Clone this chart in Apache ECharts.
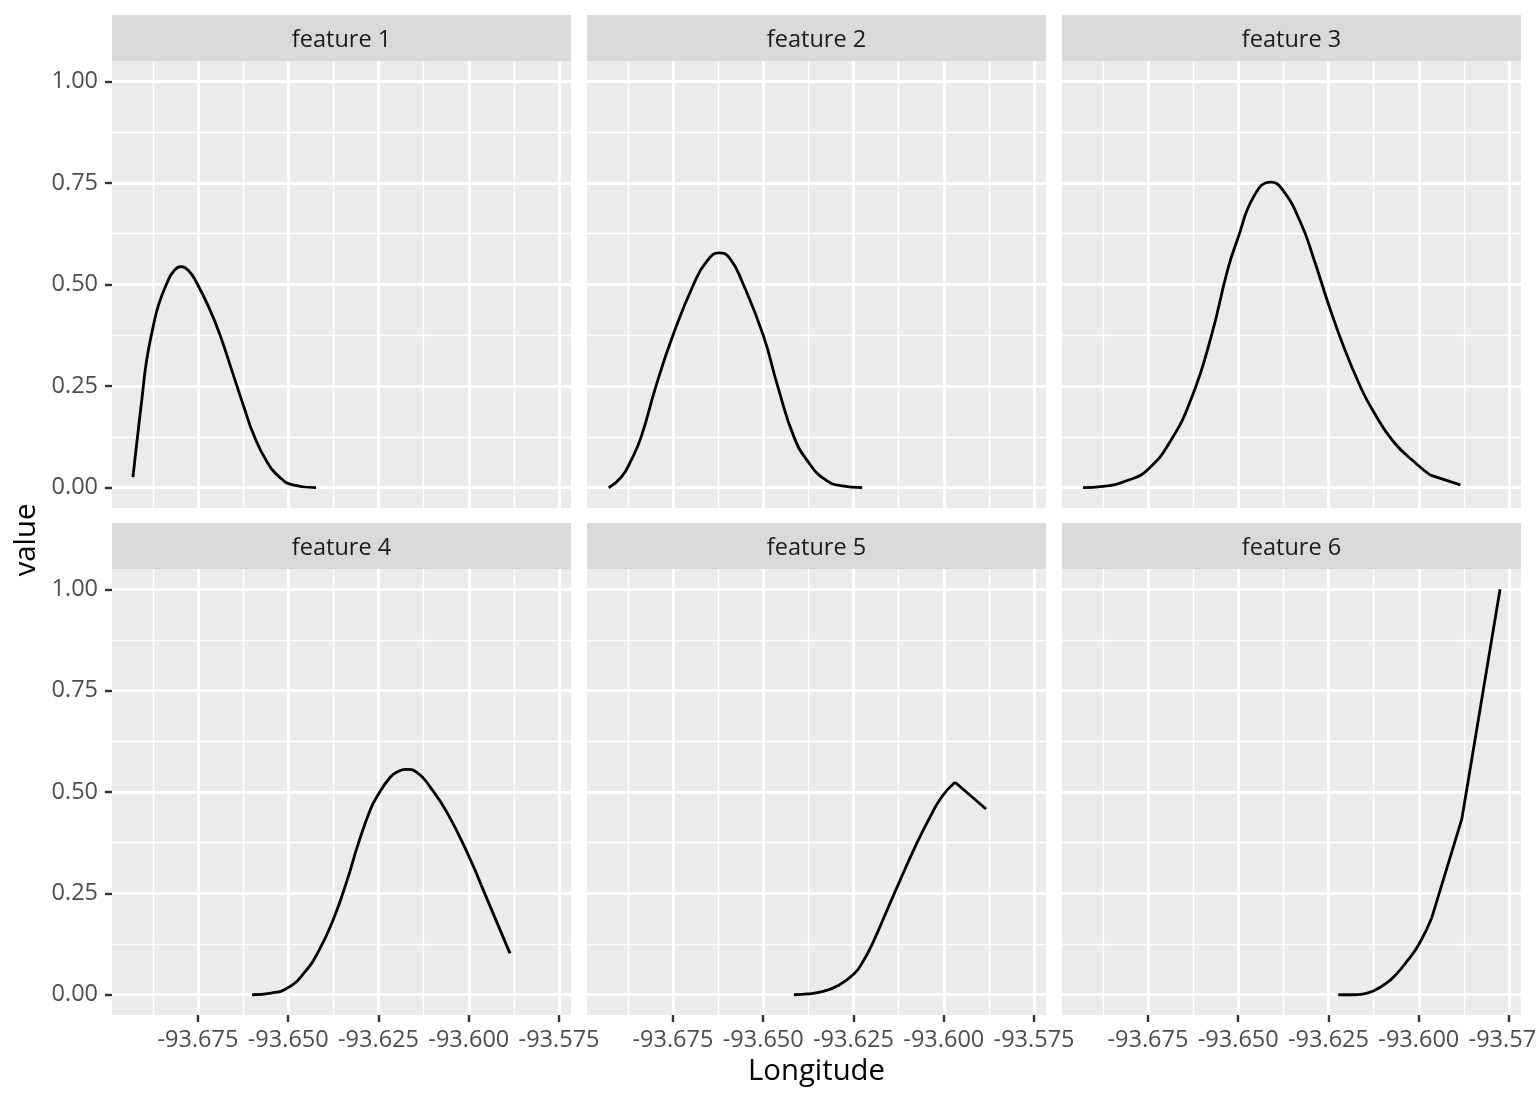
<!DOCTYPE html>
<html><head><meta charset="utf-8">
<script src="https://cdn.jsdelivr.net/npm/echarts@6/dist/echarts.min.js"></script>
<style>html,body{margin:0;padding:0;background:#fff}#chart{width:1536px;height:1104px}</style>
</head><body><div id="chart"></div>
<script>
// ---------- data ----------
const panelTitles = ['feature 1', 'feature 2', 'feature 3', 'feature 4', 'feature 5', 'feature 6'];
const xTicks = [-93.675, -93.650, -93.625, -93.600, -93.575];
const xMinor = [-93.6875, -93.6625, -93.6375, -93.6125, -93.5875];
const yTicks = [0, 0.25, 0.5, 0.75, 1];
const yMinor = [0.125, 0.375, 0.625, 0.875];
const xLimits = [-93.6988, -93.5717];
const yLimits = [-0.05, 1.05];

const curve1 = [
  [-93.6930, 0.026], [-93.6919, 0.113], [-93.6905, 0.220], [-93.6892, 0.314], [-93.6875, 0.392],
  [-93.6859, 0.450], [-93.6836, 0.503], [-93.6818, 0.532], [-93.6797, 0.544], [-93.6777, 0.535],
  [-93.6754, 0.505], [-93.6717, 0.438], [-93.6689, 0.376], [-93.6653, 0.280], [-93.6620, 0.191],
  [-93.6597, 0.133], [-93.6561, 0.067], [-93.6524, 0.026], [-93.6488, 0.007], [-93.6423, 0.000]
];
const curve2 = [
  [-93.6928, 0.000], [-93.6893, 0.026], [-93.6866, 0.067], [-93.6838, 0.125], [-93.6797, 0.250],
  [-93.6750, 0.375], [-93.6693, 0.500], [-93.6657, 0.556], [-93.6622, 0.578], [-93.6593, 0.565],
  [-93.6556, 0.502], [-93.6500, 0.375], [-93.6460, 0.250], [-93.6415, 0.125],
  [-93.6375, 0.063], [-93.6332, 0.022], [-93.6286, 0.005], [-93.6226, 0.000]
];
const curve3 = [
  [-93.6930, 0.000], [-93.6875, 0.003], [-93.6803, 0.019], [-93.6750, 0.045], [-93.6686, 0.117],
  [-93.6628, 0.224], [-93.6575, 0.372], [-93.6529, 0.537], [-93.6502, 0.611], [-93.6456, 0.718],
  [-93.6410, 0.752], [-93.6378, 0.734], [-93.6327, 0.652], [-93.6290, 0.561], [-93.6251, 0.454],
  [-93.6208, 0.347], [-93.6162, 0.249], [-93.6128, 0.191], [-93.6070, 0.113], [-93.6003, 0.056],
  [-93.5968, 0.031]
];
const tail3 = [[-93.5968, 0.031], [-93.5885, 0.007]];
const curve4 = [
  [-93.6600, 0.000], [-93.6547, 0.004], [-93.6499, 0.018], [-93.6455, 0.055], [-93.6418, 0.104],
  [-93.6375, 0.186], [-93.6336, 0.285], [-93.6308, 0.367], [-93.6272, 0.458], [-93.6252, 0.492],
  [-93.6217, 0.537], [-93.6197, 0.550], [-93.6175, 0.556], [-93.6143, 0.548], [-93.6106, 0.511],
  [-93.6060, 0.449], [-93.6000, 0.342], [-93.5966, 0.271]
];
const tail4 = [[-93.5966, 0.271], [-93.5886, 0.102]];
const curve5 = [
  [-93.6415, 0.000], [-93.6375, 0.002], [-93.6331, 0.009], [-93.6294, 0.022], [-93.6249, 0.051],
  [-93.6225, 0.080], [-93.6198, 0.125], [-93.6137, 0.250], [-93.6074, 0.375], [-93.6037, 0.440],
  [-93.6005, 0.489], [-93.5969, 0.524]
];
const tail5 = [[-93.5969, 0.524], [-93.5883, 0.458]];
const curve6 = [
  [-93.6223, 0.000], [-93.6182, 0.000], [-93.6155, 0.0015], [-93.6126, 0.009], [-93.6089, 0.029],
  [-93.6061, 0.052], [-93.6034, 0.081], [-93.6000, 0.124], [-93.5964, 0.190]
];
const tail6 = [[-93.5964, 0.190], [-93.5881, 0.433], [-93.5775, 1.000]];

const curves = [curve1, curve2, curve3, curve4, curve5, curve6];
const tails = [null, null, tail3, tail4, tail5, tail6];

// ---------- layout ----------
const FONT = 'Open Sans';
const colLeft = [112, 587, 1062];
const panelW = 459;
const rowTop = [61, 569];
const rowH = [447, 446];
const stripH = 46;
const majorW = 2.8, minorW = 1.4;

const grids = [], xAxes = [], yAxes = [], series = [], graphics = [];
for (let i = 0; i < 6; i++) {
  const r = Math.floor(i / 3), c = i % 3;
  const left = colLeft[c], top = rowTop[r], h = rowH[r];
  grids.push({ left: left, top: top, width: panelW, height: h, show: true,
    backgroundColor: '#EBEBEB', borderWidth: 0, outerBoundsMode: 'none', containLabel: false });
  const bottomRow = r === 1, leftCol = c === 0;
  xAxes.push({
    type: 'value', gridIndex: i, min: xLimits[0], max: xLimits[1],
    axisLine: { show: false, onZero: false },
    axisTick: { show: bottomRow, customValues: xTicks, length: 7,
      lineStyle: { color: '#333333', width: 2.4 } },
    axisLabel: { show: bottomRow, customValues: xTicks, margin: 13, fontSize: 23.5,
      color: '#4D4D4D', fontFamily: FONT, formatter: v => v.toFixed(3), hideOverlap: false },
    splitLine: { show: false }, minorSplitLine: { show: false }
  });
  yAxes.push({
    type: 'value', gridIndex: i, min: yLimits[0], max: yLimits[1],
    axisLine: { show: false, onZero: false },
    axisTick: { show: leftCol, customValues: yTicks, length: 7,
      lineStyle: { color: '#333333', width: 2.4 } },
    axisLabel: { show: leftCol, customValues: yTicks, margin: 14, fontSize: 23.5,
      color: '#4D4D4D', fontFamily: FONT, formatter: v => v.toFixed(2), hideOverlap: false },
    splitLine: { show: false }, minorSplitLine: { show: false }
  });
  const ml = [];
  xMinor.forEach(v => ml.push({ xAxis: v, lineStyle: { width: minorW } }));
  yMinor.forEach(v => ml.push({ yAxis: v, lineStyle: { width: minorW } }));
  xTicks.forEach(v => ml.push({ xAxis: v, lineStyle: { width: majorW } }));
  yTicks.forEach(v => ml.push({ yAxis: v, lineStyle: { width: majorW } }));
  series.push({
    type: 'line', xAxisIndex: i, yAxisIndex: i, data: [], z: 1, silent: true,
    markLine: { silent: true, precision: 6, symbol: ['none', 'none'], animation: false,
      label: { show: false },
      lineStyle: { color: '#FFFFFF', type: 'solid', opacity: 1 }, emphasis: { disabled: true },
      data: ml }
  });
  series.push({
    type: 'line', xAxisIndex: i, yAxisIndex: i, data: curves[i], z: 10,
    smooth: 0.5, symbol: 'none', silent: true, animation: false,
    lineStyle: { color: '#000000', width: 2.8 }
  });
  if (tails[i]) {
    series.push({
      type: 'line', xAxisIndex: i, yAxisIndex: i, data: tails[i], z: 10,
      smooth: false, symbol: 'none', silent: true, animation: false,
      lineStyle: { color: '#000000', width: 2.8, join: 'round' }
    });
  }
  graphics.push({ type: 'rect', shape: { x: left, y: top - stripH, width: panelW, height: stripH },
    style: { fill: '#D9D9D9' }, silent: true });
  graphics.push({ type: 'text', x: left + panelW / 2, y: top - stripH / 2 + 2,
    style: { text: panelTitles[i], fill: '#1A1A1A', font: '23.5px "Open Sans"',
      textAlign: 'center', textVerticalAlign: 'middle' }, silent: true });
}
graphics.push({ type: 'text', x: 816.5, y: 1072,
  style: { text: 'Longitude', fill: '#000000', font: '29.3px "Open Sans"',
    textAlign: 'center', textVerticalAlign: 'middle' }, silent: true });
graphics.push({ type: 'text', x: 27, y: 540, rotation: Math.PI / 2,
  style: { text: 'value', fill: '#000000', font: '29.3px "Open Sans"',
    textAlign: 'center', textVerticalAlign: 'middle' }, silent: true });

const chart = echarts.init(document.getElementById('chart'), null, { renderer: 'canvas' });
chart.setOption({
  animation: false,
  backgroundColor: '#FFFFFF',
  textStyle: { fontFamily: FONT },
  grid: grids, xAxis: xAxes, yAxis: yAxes, series: series,
  graphic: { elements: graphics }
});
</script></body></html>
